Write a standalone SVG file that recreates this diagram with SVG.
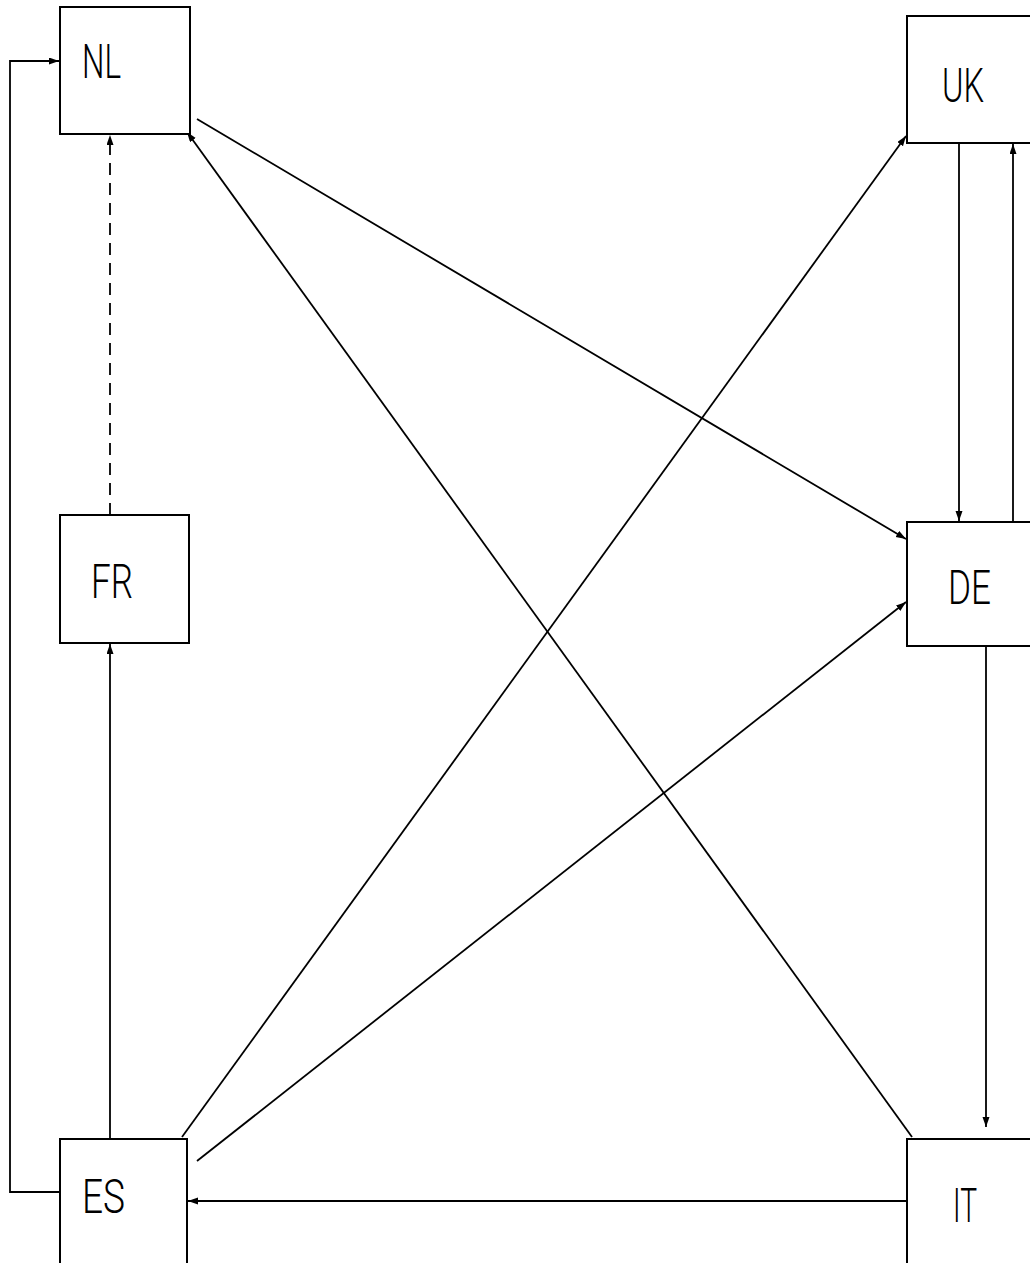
<svg xmlns="http://www.w3.org/2000/svg" width="1030" height="1263" viewBox="0 0 1030 1263">
<style>
.box{fill:#fff;stroke:#000;stroke-width:2}
.lbl{font-family:Roboto,"Liberation Sans",Arial,sans-serif;font-weight:300;font-size:48px;fill:#000}
.c{fill:none;stroke:#000;stroke-width:1.8}
.d{stroke-dasharray:12 8}
</style>
<defs>
<marker id="a" markerUnits="userSpaceOnUse" markerWidth="11" markerHeight="8" refX="10" refY="3.5" orient="auto">
<path d="M0,0 L10,3.5 L0,7 z" fill="#000"/>
</marker>
</defs>
<rect width="1030" height="1263" fill="#fff"/>
<g id="connectors">
<polyline class="c" points="60,1192 10,1192 10,61 59,61" marker-end="url(#a)"/>
<line class="c d" x1="110" y1="515" x2="110" y2="135" marker-end="url(#a)"/>
<line class="c" x1="110" y1="1139" x2="110" y2="644" marker-end="url(#a)"/>
<line class="c" x1="907" y1="1201" x2="188" y2="1201" marker-end="url(#a)"/>
<line class="c" x1="197" y1="119" x2="906" y2="539" marker-end="url(#a)"/>
<line class="c" x1="197" y1="1161" x2="906" y2="602" marker-end="url(#a)"/>
<line class="c" x1="182" y1="1137" x2="906" y2="136" marker-end="url(#a)"/>
<line class="c" x1="912" y1="1137" x2="187" y2="132" marker-end="url(#a)"/>
<line class="c" x1="959" y1="143" x2="959" y2="521" marker-end="url(#a)"/>
<line class="c" x1="1013" y1="522" x2="1013" y2="144" marker-end="url(#a)"/>
<line class="c" x1="986" y1="646" x2="986" y2="1127" marker-end="url(#a)"/>
</g>
<g id="NL"><rect class="box" x="60" y="7" width="130" height="127"/><text class="lbl" x="82" y="78" textLength="39" lengthAdjust="spacingAndGlyphs">NL</text></g>
<g id="UK"><rect class="box" x="907" y="16" width="130" height="127"/><text class="lbl" x="942" y="102" textLength="42" lengthAdjust="spacingAndGlyphs">UK</text></g>
<g id="DE"><rect class="box" x="907" y="522" width="130" height="124"/><text class="lbl" x="948" y="604" textLength="43" lengthAdjust="spacingAndGlyphs">DE</text></g>
<g id="FR"><rect class="box" x="60" y="515" width="129" height="128"/><text class="lbl" x="91" y="598" textLength="42" lengthAdjust="spacingAndGlyphs">FR</text></g>
<g id="ES"><rect class="box" x="60" y="1139" width="127" height="140"/><text class="lbl" x="82" y="1213" textLength="43" lengthAdjust="spacingAndGlyphs">ES</text></g>
<g id="IT"><rect class="box" x="907" y="1139" width="130" height="140"/><text class="lbl" x="953" y="1222" textLength="24" lengthAdjust="spacingAndGlyphs">IT</text></g>
</svg>
